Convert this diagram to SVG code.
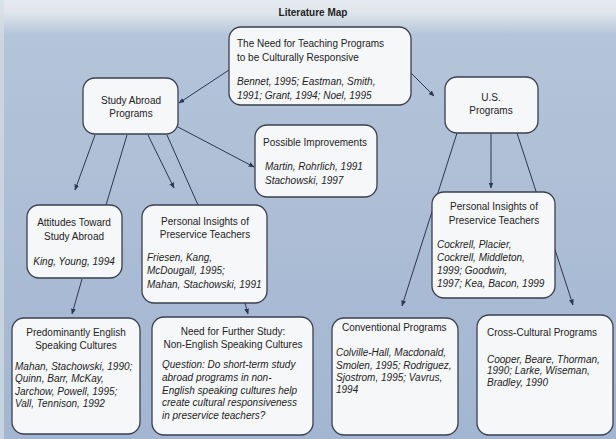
<svg xmlns="http://www.w3.org/2000/svg" width="616" height="439" viewBox="0 0 616 439">
<defs>
<linearGradient id="bg" x1="0" y1="0" x2="0" y2="1">
<stop offset="0" stop-color="#e6eaee"/>
<stop offset="0.03" stop-color="#dfe5ec"/>
<stop offset="0.08" stop-color="#b4c4d9"/>
<stop offset="1" stop-color="#a3b6d1"/>
</linearGradient>
<marker id="ah" viewBox="0 0 10 10" refX="9" refY="5" markerWidth="6" markerHeight="6" markerUnits="userSpaceOnUse" orient="auto">
<path d="M0,1 L10,5 L0,9 z" fill="#2c3750"/>
</marker>
<style>
.box{fill:#f6f7f9;stroke:#3a4050;stroke-width:1.3}
.t{font-family:"Liberation Sans",Arial,sans-serif;font-size:10px;fill:#232323}
.i{font-style:italic}
.c{text-anchor:middle}
.ln{stroke:#2c3750;stroke-width:1;fill:none}
.ar{marker-end:url(#ah)}
</style>
</defs>
<rect x="0" y="0" width="616" height="439" fill="url(#bg)"/>
<rect x="0" y="0" width="4" height="439" fill="#d6dde6" opacity="0.7"/>
<text class="t c" x="313" y="16" font-weight="bold" font-size="9">Literature Map</text>

<g id="connectors">
<line class="ln ar" x1="229" y1="70" x2="179" y2="103"/>
<line class="ln ar" x1="409" y1="71" x2="434" y2="96"/>
<line class="ln ar" x1="178" y1="127" x2="254" y2="167"/>
<line class="ln ar" x1="95" y1="135" x2="75" y2="190"/>
<line class="ln" x1="127" y1="135" x2="106" y2="205"/>
<line class="ln ar" x1="148" y1="135" x2="174" y2="188"/>
<line class="ln" x1="167" y1="135" x2="198" y2="205"/>
<line class="ln ar" x1="82" y1="279" x2="72" y2="314"/>
<line class="ln ar" x1="245" y1="303" x2="248" y2="314"/>
<line class="ln ar" x1="491" y1="133" x2="491" y2="188"/>
<line class="ln ar" x1="457" y1="133" x2="402" y2="306"/>
<line class="ln ar" x1="517" y1="133" x2="573" y2="305"/>
</g>

<g id="need">
<rect class="box" x="229" y="27" width="182" height="78" rx="12"/>
<text class="t" x="237" y="47">The Need for Teaching Programs</text>
<text class="t" x="237" y="61">to be Culturally Responsive</text>
<text class="t i" x="237" y="85">Bennet, 1995; Eastman, Smith,</text>
<text class="t i" x="237" y="99">1991; Grant, 1994; Noel, 1995</text>
</g>

<g id="study-abroad">
<rect class="box" x="83" y="78" width="95" height="56" rx="12"/>
<text class="t c" x="131" y="104">Study Abroad</text>
<text class="t c" x="131" y="117">Programs</text>
</g>

<g id="possible">
<rect class="box" x="255" y="125" width="122" height="72" rx="12"/>
<text class="t" x="263" y="146">Possible Improvements</text>
<text class="t i" x="265" y="170">Martin, Rohrlich, 1991</text>
<text class="t i" x="265" y="184">Stachowski, 1997</text>
</g>

<g id="us">
<rect class="box" x="445" y="77" width="93" height="56" rx="12"/>
<text class="t c" x="491" y="101">U.S.</text>
<text class="t c" x="491" y="114">Programs</text>
</g>

<g id="insights-us">
<rect class="box" x="432" y="192" width="123" height="106" rx="12"/>
<text class="t c" x="494" y="210">Personal Insights of</text>
<text class="t c" x="494" y="224">Preservice Teachers</text>
<text class="t i" x="437" y="248">Cockrell, Placier,</text>
<text class="t i" x="437" y="261">Cockrell, Middleton,</text>
<text class="t i" x="437" y="274">1999; Goodwin,</text>
<text class="t i" x="437" y="287">1997; Kea, Bacon, 1999</text>
</g>

<g id="attitudes">
<rect class="box" x="27" y="205" width="95" height="73" rx="12"/>
<text class="t c" x="74" y="226">Attitudes Toward</text>
<text class="t c" x="74" y="240">Study Abroad</text>
<text class="t c i" x="74" y="265">King, Young, 1994</text>
</g>

<g id="insights-abroad">
<rect class="box" x="142" y="205" width="125" height="98" rx="12"/>
<text class="t c" x="205" y="225">Personal Insights of</text>
<text class="t c" x="205" y="238">Preservice Teachers</text>
<text class="t i" x="147" y="261">Friesen, Kang,</text>
<text class="t i" x="147" y="274">McDougall, 1995;</text>
<text class="t i" x="147" y="288">Mahan, Stachowski, 1991</text>
</g>

<g id="english">
<rect class="box" x="12" y="318" width="128" height="116" rx="12"/>
<text class="t c" x="76" y="336">Predominantly English</text>
<text class="t c" x="76" y="349">Speaking Cultures</text>
<text class="t i" x="15" y="370">Mahan, Stachowski, 1990;</text>
<text class="t i" x="15" y="382">Quinn, Barr, McKay,</text>
<text class="t i" x="15" y="395">Jarchow, Powell, 1995;</text>
<text class="t i" x="15" y="407">Vall, Tennison, 1992</text>
</g>

<g id="further">
<rect class="box" x="152" y="317" width="161" height="118" rx="12"/>
<text class="t c" x="233" y="335">Need for Further Study:</text>
<text class="t c" x="233" y="348">Non-English Speaking Cultures</text>
<text class="t i" x="162" y="368">Question: Do short-term study</text>
<text class="t i" x="162" y="381">abroad programs in non-</text>
<text class="t i" x="162" y="394">English speaking cultures help</text>
<text class="t i" x="162" y="406">create cultural responsiveness</text>
<text class="t i" x="162" y="419">in preservice teachers?</text>
</g>

<g id="conventional">
<rect class="box" x="332" y="318" width="126" height="117" rx="12"/>
<text class="t" x="342" y="331">Conventional Programs</text>
<text class="t i" x="336" y="356">Colville-Hall, Macdonald,</text>
<text class="t i" x="336" y="369">Smolen, 1995; Rodriguez,</text>
<text class="t i" x="336" y="381">Sjostrom, 1995; Vavrus,</text>
<text class="t i" x="336" y="393">1994</text>
</g>

<g id="cross">
<rect class="box" x="477" y="315" width="136" height="120" rx="12"/>
<text class="t" x="487" y="336">Cross-Cultural Programs</text>
<text class="t i" x="487" y="363">Cooper, Beare, Thorman,</text>
<text class="t i" x="487" y="374">1990; Larke, Wiseman,</text>
<text class="t i" x="487" y="386">Bradley, 1990</text>
</g>
</svg>
